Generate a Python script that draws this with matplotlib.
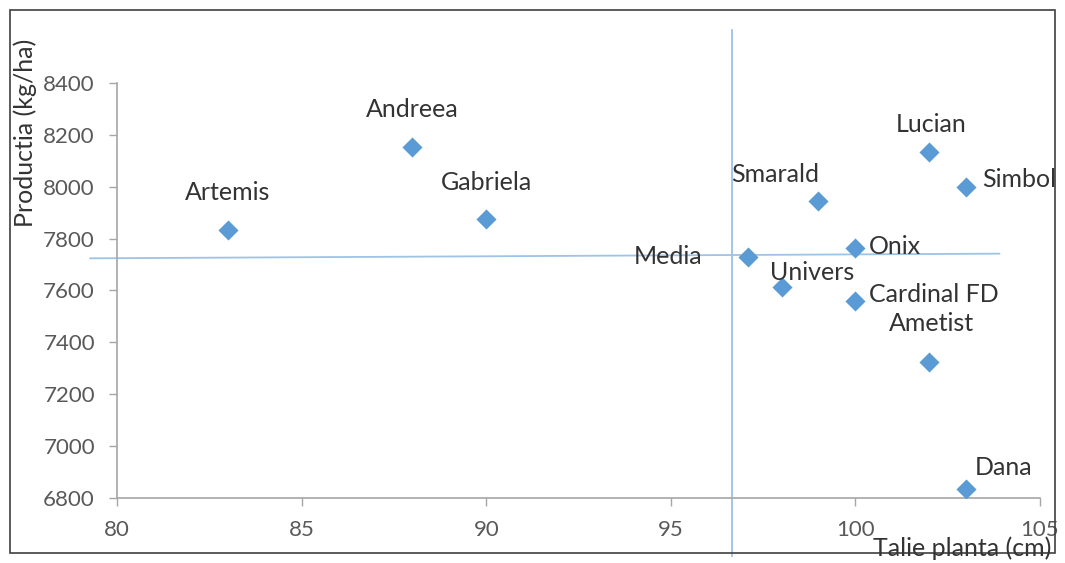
import numpy as np
import matplotlib
matplotlib.use("Agg")
import matplotlib.pyplot as plt
from matplotlib.patches import Rectangle

plt.rcParams['font.family'] = ['Lato', 'DejaVu Sans']

# soiuri: inaltime plante (cm) si productie (kg/ha)
names = ["Artemis", "Andreea", "Gabriela", "Media", "Smarald", "Lucian", "Simbol",
         "Onix", "Univers", "Cardinal FD", "Ametist", "Dana"]
talie = [83, 88, 90, 97.1, 99, 102, 103, 100, 98, 100, 102, 103]
productie = [7835, 8155, 7875, 7730, 7945, 8135, 8000, 7765, 7615, 7560, 7325, 6835]

# pozitia etichetelor fata de punct (offset in pixeli, aliniere)
label_pos = {
    "Artemis": (0, 37, "center"),
    "Andreea": (0, 37, "center"),
    "Gabriela": (0, 37, "center"),
    "Media": (-46, 0, "right"),
    "Smarald": (-43, 26, "center"),
    "Lucian": (2, 27, "center"),
    "Simbol": (16, 7, "left"),
    "Onix": (13, 1, "left"),
    "Univers": (31, 14, "center"),
    "Cardinal FD": (14, 6, "left"),
    "Ametist": (2, 38, "center"),
    "Dana": (9, 21, "left"),
}

mean_x = 96.65
mean_y = 7733

fig = plt.figure(figsize=(10.65, 5.63), dpi=100)
ax = fig.add_axes([0.110, 0.1155, 0.8665, 0.7371])

ax.scatter(talie, productie, marker="D", s=105, color="#5B9BD5", zorder=3, linewidths=0)

for n, x, y in zip(names, talie, productie):
    dx, dy, ha = label_pos[n]
    ax.annotate(n, (x, y), xytext=(dx, dy), textcoords="offset pixels",
                ha=ha, va="center", fontsize=18, color="#333333")

# liniile mediilor
ax.plot([mean_x, mean_x], [6578, 8605], color="#9DC3E6", lw=1.3, clip_on=False, zorder=2)
ax.plot([79.27, 103.9], [7724, 7742], color="#9DC3E6", lw=1.3, clip_on=False, zorder=2)

ax.set_xlim(80, 105)
ax.set_ylim(6800, 8400)
ax.set_xticks(np.arange(80, 106, 5))
ax.set_yticks(np.arange(6800, 8401, 200))
ax.tick_params(axis="both", labelsize=16, labelcolor="#595959", color="#A6A6A6",
               length=6, width=1, direction="out", pad=10)
for s in ["top", "right"]:
    ax.spines[s].set_visible(False)
for s in ["left", "bottom"]:
    ax.spines[s].set_color("#A6A6A6")
    ax.spines[s].set_linewidth(1.2)

fig.text(25 / 1065, 1 - 133 / 563, "Productia (kg/ha)", rotation=90, ha="center",
         va="center", fontsize=18, color="#333333")
fig.text(962 / 1065, 1 - 548 / 563, "Talie planta (cm)", ha="center", va="center",
         fontsize=18, color="#333333")

fig.patches.append(Rectangle((0.009, 0.017), 0.982, 0.966, transform=fig.transFigure,
                             fill=False, edgecolor="#404040", lw=1.2))

fig.savefig("out.png", dpi=100)
